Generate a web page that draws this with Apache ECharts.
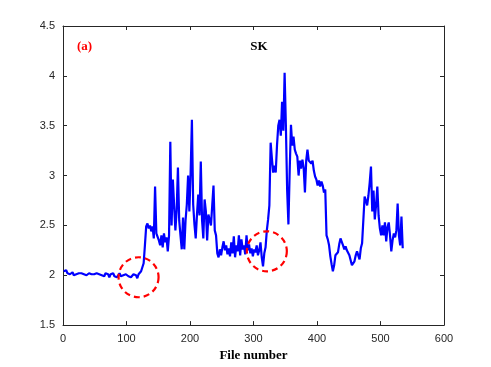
<!DOCTYPE html>
<html>
<head>
<meta charset="utf-8">
<script src="https://cdn.jsdelivr.net/npm/echarts@6/dist/echarts.min.js"></script>
<style>
  html, body { margin: 0; padding: 0; background: #fff; }
  #chart { width: 491px; height: 367px; }
</style>
</head>
<body>
<div id="chart"></div>
<script>
// SK value per file, sampled every 2nd file (file 1, 3, 5, ... 535)
var STEP = 2;
var sk = [
  // files 1-119, flat part
  2.04, 2.03, 2.05, 2.02, 2.03, 2.01, 2.02, 2.03, 2.00, 2.02,
  2.01, 2.03, 2.02, 2.00, 2.02, 2.03, 2.01, 2.02, 2.00, 2.01,
  2.02, 2.00, 2.01, 2.03, 2.01, 1.99, 2.02, 2.00, 2.01, 2.02,
  2.00, 2.01, 1.99, 2.02, 2.00, 2.01, 1.98, 2.01, 2.00, 2.02,
  1.99, 2.01, 1.98, 2.00, 2.02, 1.99, 2.01, 2.00, 1.98, 2.01,
  2.00, 1.99, 2.01, 1.98, 2.00, 2.01, 1.99, 2.00, 1.97, 2.01,
  // files 121-167
  2.01, 2.04, 2.08, 2.12, 2.30, 2.49, 2.52, 2.47, 2.50, 2.44,
  2.49, 2.37, 2.89, 2.42, 2.40, 2.35, 2.30, 2.40, 2.28, 2.42,
  2.33, 2.38, 2.24, 2.40,
  // files 169-241
  3.34, 2.50, 2.96, 2.70, 2.45, 2.65, 3.08, 2.55, 2.40, 2.26,
  2.58, 2.26, 2.55, 2.71, 3.00, 2.64, 3.03, 3.56, 2.71, 2.51,
  2.37, 2.61, 2.81, 2.60, 3.14, 2.55, 2.37, 2.76, 2.64, 2.35,
  2.61, 2.62, 2.50, 2.70, 2.90, 2.45, 2.40,
  // files 243-321
  2.22, 2.18, 2.26, 2.20, 2.28, 2.34, 2.25, 2.30, 2.21, 2.27,
  2.19, 2.33, 2.22, 2.39, 2.18, 2.30, 2.24, 2.40, 2.20, 2.36,
  2.26, 2.30, 2.21, 2.40, 2.25, 2.31, 2.22, 2.27, 2.19, 2.26,
  2.23, 2.30, 2.20, 2.25, 2.33, 2.18, 2.09, 2.22, 2.28, 2.45,
  // files 323-425
  2.56, 2.70, 3.33, 3.17, 3.03, 3.10, 3.03, 3.30, 3.50, 3.56,
  3.40, 3.74, 3.45, 4.03, 3.50, 2.85, 2.51, 3.05, 3.51, 3.30,
  3.39, 3.26, 3.22, 3.19, 3.00, 3.15, 3.07, 3.16, 3.08, 2.83,
  3.15, 3.26, 3.15, 3.17, 3.12, 3.15, 3.05, 2.99, 2.96, 2.90,
  2.95, 2.89, 2.94, 2.90, 2.83, 2.86, 2.40, 2.36, 2.30, 2.19,
  2.11, 2.04,
  // files 427-535
  2.10, 2.20, 2.19, 2.23, 2.31, 2.37, 2.36, 2.30, 2.26, 2.29,
  2.25, 2.27, 2.20, 2.15, 2.10, 2.08, 2.14, 2.20, 2.24, 2.22,
  2.16, 2.27, 2.32, 2.33, 2.79, 2.75, 2.70, 2.80, 2.93, 3.09,
  2.64, 2.85, 2.56, 2.70, 2.89, 2.60, 2.47, 2.40, 2.50, 2.40,
  2.53, 2.34, 2.48, 2.53, 2.40, 2.24, 2.35, 2.42, 2.38, 2.45,
  2.72, 2.40, 2.30, 2.59, 2.27
];

// red dashed circles marking the jumps (file number, SK)
var marks = [[119, 1.98], [321, 2.24]];

var xTicks = { min: 0, max: 600, interval: 100 };
var yTicks = { min: 1.5, max: 4.5, interval: 0.5 };

var lineData = sk.map(function (v, i) { return [i * STEP + 1, v]; });

var axisCol = "#262626";
var chart = echarts.init(document.getElementById("chart"), null, { renderer: "canvas" });

function axisBase(extra) {
  var a = {
    axisLine: { show: true, onZero: false, lineStyle: { color: axisCol, width: 1 } },
    axisTick: { show: true, inside: true, length: 4, lineStyle: { color: axisCol } },
    splitLine: { show: false },
    axisLabel: { color: axisCol, fontFamily: "Liberation Sans", fontSize: 11 }
  };
  for (var k in extra) a[k] = extra[k];
  return a;
}

chart.setOption({
  animation: false,
  title: [
    {
      text: "(a)", left: 72, top: 35,
      textStyle: { color: "#ff0000", fontFamily: "Liberation Serif", fontWeight: "bold", fontSize: 13 }
    },
    {
      text: "SK", left: 254, top: 35, textAlign: "center",
      textStyle: { color: "#000", fontFamily: "Liberation Serif", fontWeight: "bold", fontSize: 13 }
    }
  ],
  grid: { left: 63, right: 47, top: 26, bottom: 41 },
  xAxis: [
    axisBase({
      type: "value", min: xTicks.min, max: xTicks.max, interval: xTicks.interval,
      name: "File number", nameLocation: "middle", nameGap: 22,
      nameTextStyle: { color: "#000", fontFamily: "Liberation Serif", fontWeight: "bold", fontSize: 13 }
    }),
    axisBase({
      type: "value", position: "top", min: xTicks.min, max: xTicks.max, interval: xTicks.interval,
      axisLabel: { show: false }
    })
  ],
  yAxis: [
    axisBase({
      type: "value", min: yTicks.min, max: yTicks.max, interval: yTicks.interval
    }),
    axisBase({
      type: "value", position: "right", min: yTicks.min, max: yTicks.max, interval: yTicks.interval,
      axisLabel: { show: false }
    })
  ],
  series: [
    {
      type: "line",
      data: lineData,
      showSymbol: false,
      lineStyle: { color: "#0000ff", width: 2.2 },
      z: 3
    },
    {
      type: "custom",
      data: marks,
      z: 4,
      renderItem: function (params, api) {
        var p = api.coord([api.value(0), api.value(1)]);
        return {
          type: "circle",
          shape: { cx: p[0], cy: p[1], r: 20 },
          style: { fill: null, stroke: "#ff0000", lineWidth: 2.2, lineDash: [6, 4] }
        };
      }
    }
  ]
});
</script>
</body>
</html>
